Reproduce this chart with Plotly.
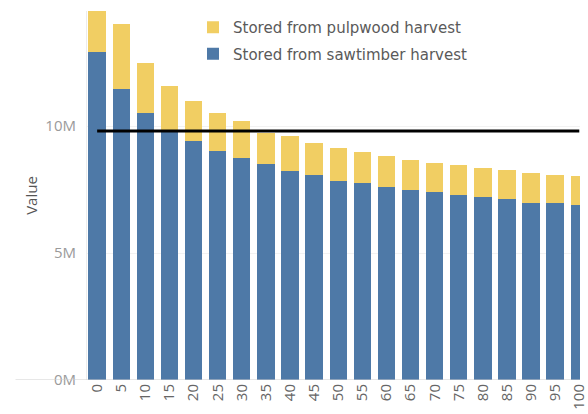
import plotly.graph_objects as go

years = [str(v) for v in range(0, 105, 5)]
sawtimber_m = [12.91, 11.46, 10.51, 9.85, 9.41, 9.02, 8.76, 8.50, 8.23, 8.07, 7.83,
               7.76, 7.60, 7.48, 7.40, 7.28, 7.20, 7.13, 6.97, 6.96, 6.89]
pulpwood_m = [2.20, 2.54, 1.97, 1.72, 1.57, 1.48, 1.42, 1.22, 1.37, 1.26, 1.30,
              1.22, 1.22, 1.18, 1.14, 1.18, 1.15, 1.14, 1.18, 1.11, 1.14]
reference_m = 9.8

sawtimber = [v * 1e6 for v in sawtimber_m]
pulpwood = [v * 1e6 for v in pulpwood_m]
reference = [reference_m * 1e6] * len(years)

BLUE = "#4E79A7"
YELLOW = "#F1CE63"
FONT = "Open Sans"

fig = go.Figure()
fig.add_trace(go.Bar(x=years, y=sawtimber, name="Stored from sawtimber harvest",
                     legendgroup="saw", legendrank=2,
                     marker=dict(color=BLUE, line=dict(width=0))))
fig.add_trace(go.Bar(x=years, y=pulpwood, name="Stored from pulpwood harvest",
                     legendgroup="pulp", legendrank=1,
                     marker=dict(color=YELLOW, line=dict(width=0))))
fig.add_trace(go.Scatter(x=years, y=reference, mode="lines", showlegend=False,
                         line=dict(color="black", width=3), cliponaxis=True))

# zero baseline extending left of the plot area
fig.add_shape(type="line", xref="paper", yref="y", x0=-0.145, x1=1, y0=0, y1=0,
              line=dict(color="#cfcfcf", width=1), layer="above")

fig.update_layout(
    width=588, height=414,
    margin=dict(l=87, r=0, t=11, b=34),
    paper_bgcolor="white", plot_bgcolor="white",
    barmode="stack", bargap=0.28,
    font=dict(family=FONT, color="#555555"),
    legend=dict(x=0.215, y=1.0, xanchor="left", yanchor="top",
                traceorder="grouped", bgcolor="rgba(0,0,0,0)",
                font=dict(size=15, color="#5a5a5a", family="DejaVu Sans"),
                itemwidth=30, tracegroupgap=4),
    showlegend=True,
)
fig.update_xaxes(type="category", range=[-0.42, 20.03], tickangle=-90,
                 showgrid=False, showline=False, zeroline=False, ticks="",
                 tickfont=dict(size=15, color="#666666", family=FONT))
fig.update_yaxes(range=[0, 14.53e6], tickvals=[0, 5e6, 10e6],
                 ticktext=["0M", "5M", "10M"], ticks="", ticklabelstandoff=7,
                 showgrid=True, gridcolor="#f2f2f2", gridwidth=1,
                 zeroline=False, showline=True, linecolor="#ececec", linewidth=1,
                 tickfont=dict(size=15, color="#9a9a9a", family=FONT),
                 title=dict(text="Value", standoff=4,
                            font=dict(size=15, color="#555555", family=FONT)))

fig.write_html("out.html",
               config={"displayModeBar": False},
               post_script="document.body.style.margin='0';"
                           "document.body.style.overflow='hidden';")
